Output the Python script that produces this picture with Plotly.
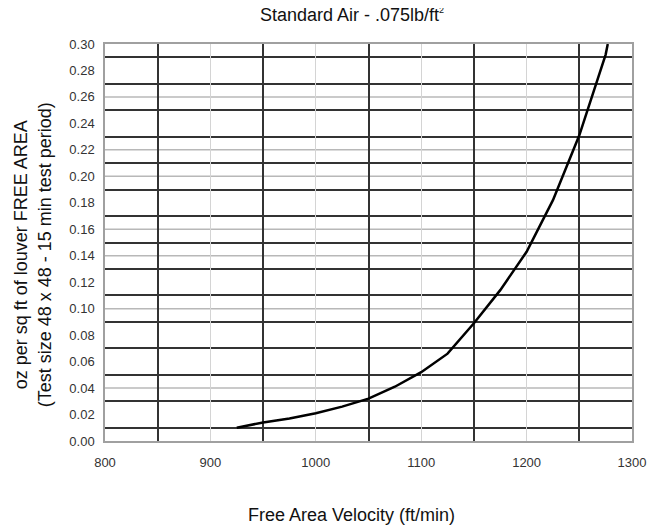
import plotly.graph_objects as go

# Data
velocity = [925, 950, 975, 1000, 1025, 1050, 1075, 1100, 1125, 1150, 1175, 1200, 1225, 1250, 1275, 1277]
pressure = [0.010, 0.014, 0.017, 0.021, 0.026, 0.032, 0.041, 0.052, 0.066, 0.089, 0.114, 0.143, 0.182, 0.231, 0.292, 0.300]

x_ticks = [800, 900, 1000, 1100, 1200, 1300]
y_ticks = [round(i * 0.02, 2) for i in range(16)]
y_tick_labels = [f"{v:.2f}" for v in y_ticks]
light_h_lines = [0.04, 0.10, 0.14, 0.16, 0.20, 0.22, 0.26]

FONT = "Liberation Sans, Arial, sans-serif"

fig = go.Figure()
fig.add_trace(go.Scatter(
    x=velocity, y=pressure, mode="lines",
    line=dict(color="#000000", width=2.5),
    showlegend=False, hoverinfo="skip",
))

for yv in light_h_lines:
    fig.add_shape(type="line", xref="paper", yref="y", x0=0, x1=1, y0=yv, y1=yv,
                  line=dict(color="#b8b8b8", width=1.5), layer="below")

# page has an 8px body margin, so the figure is 8px smaller and shifted
fig.update_layout(
    width=650, height=519,
    margin=dict(l=97, r=24, t=36, b=86),
    paper_bgcolor="white", plot_bgcolor="white",
    font=dict(family=FONT, color="#222222"),
    xaxis=dict(
        range=[800, 1300], tickvals=x_ticks, ticktext=[str(v) for v in x_ticks],
        showgrid=True, gridcolor="#d4d4d4", gridwidth=1.2,
        minor=dict(dtick=100, tick0=850, showgrid=True, gridcolor="#333333", gridwidth=1.6),
        showline=True, mirror=True, linecolor="#a0a0a0", linewidth=1.5,
        ticks="outside", ticklen=9, tickcolor="rgba(0,0,0,0)",
        tickfont=dict(size=13, color="#333333", family=FONT),
        zeroline=False,
    ),
    yaxis=dict(
        range=[0, 0.30], tickvals=y_ticks, ticktext=y_tick_labels,
        showgrid=False,
        minor=dict(dtick=0.02, tick0=0.01, showgrid=True, gridcolor="#333333", gridwidth=1.6),
        showline=True, mirror=True, linecolor="#a0a0a0", linewidth=1.5,
        ticks="outside", ticklen=6, tickcolor="rgba(0,0,0,0)",
        tickfont=dict(size=13, color="#333333", family=FONT),
        zeroline=False,
    ),
    annotations=[
        dict(text="Standard Air - .075lb/ft<sup><span style='font-size:9px'>2</span></sup>",
             xref="paper", yref="paper",
             x=0.469, y=1.073, xanchor="center", yanchor="middle", showarrow=False,
             font=dict(size=18, color="#111111", family=FONT)),
        dict(text="Free Area Velocity (ft/min)", xref="paper", yref="paper",
             x=0.467, y=-0.186, xanchor="center", yanchor="middle", showarrow=False,
             font=dict(size=18, color="#111111", family=FONT)),
        dict(text="oz per sq ft of louver FREE AREA<br>(Test size 48 x 48 - 15 min test period)",
             xref="paper", yref="paper", x=-0.138, y=0.4685, xanchor="center", yanchor="middle",
             textangle=-90, showarrow=False,
             font=dict(size=18, color="#111111", family=FONT)),
    ],
)

fig.write_html("out.html")
